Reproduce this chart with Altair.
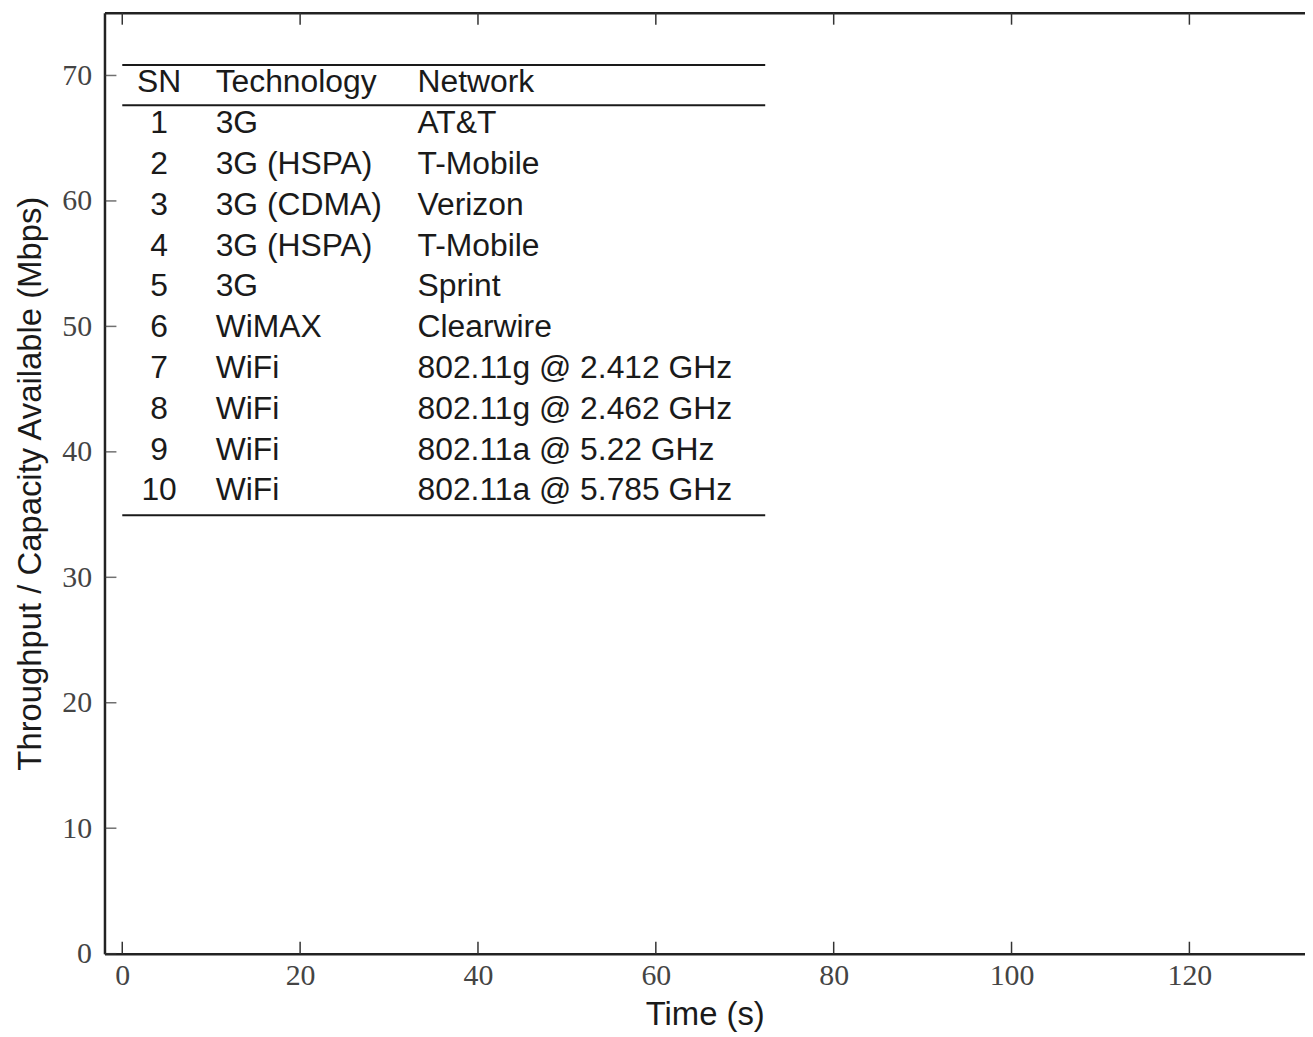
import altair as alt
import pandas as pd

# ---- data ----
x_ticks = [0, 20, 40, 60, 80, 100, 120]
y_ticks = [0, 10, 20, 30, 40, 50, 60, 70]
header = ["SN", "Technology", "Network"]
sn = ["1", "2", "3", "4", "5", "6", "7", "8", "9", "10"]
tech = ["3G", "3G (HSPA)", "3G (CDMA)", "3G (HSPA)", "3G", "WiMAX",
        "WiFi", "WiFi", "WiFi", "WiFi"]
network = ["AT&T", "T-Mobile", "Verizon", "T-Mobile", "Sprint", "Clearwire",
           "802.11g @ 2.412 GHz", "802.11g @ 2.462 GHz",
           "802.11a @ 5.22 GHz", "802.11a @ 5.785 GHz"]

# ---- layout ----
PW, PH = 1207, 946
X_DOM = [-2, 133]
Y_DOM = [0, 75]
HEADER_Y = 69.44
ROW_STEP = 3.252
SN_X, TECH_X, NET_X = 4.14, 10.5, 33.2
TBL_X0, TBL_X1 = 0, 72.3
LINE_YS = [70.83, 67.62, 34.94]
TICK_LEN = 12

xs = alt.Scale(domain=X_DOM, nice=False, zero=False)
ys = alt.Scale(domain=Y_DOM, nice=False, zero=False)

table = pd.DataFrame({
    "sn": [header[0]] + sn,
    "tech": [header[1]] + tech,
    "net": [header[2]] + network,
    "row": list(range(0, len(sn) + 1)),
})
table["ypos"] = HEADER_Y - ROW_STEP * table["row"]

TXT = dict(font="Liberation Sans", fontSize=32, color="#1a1a1a", baseline="middle")

def col_layer(field, xval, align):
    return alt.Chart(table).mark_text(align=align, **TXT).encode(
        x=alt.X(datum=xval, scale=xs, axis=None),
        y=alt.Y("ypos:Q", scale=ys, axis=None),
        text=f"{field}:N")

sn_layer = col_layer("sn", SN_X, "center")
tech_layer = col_layer("tech", TECH_X, "left")
net_layer = col_layer("net", NET_X, "left")

lines = alt.Chart(pd.DataFrame({"y": LINE_YS})).mark_rule(color="#1a1a1a", strokeWidth=2).encode(
    x=alt.X(datum=TBL_X0, scale=xs, axis=None), x2=alt.X2(datum=TBL_X1),
    y=alt.Y("y:Q", scale=ys, axis=None))

LBL = dict(labelFont="Liberation Serif", labelFontSize=30, labelColor="#444",
           titleFont="Liberation Sans", titleFontSize=33, titleColor="#1a1a1a",
           titleFontWeight="normal", domainColor="#222", domainWidth=2.5,
           ticks=False, grid=False)

xdf = pd.DataFrame({"v": x_ticks})
ydf = pd.DataFrame({"v": y_ticks})

bottom_ticks = alt.Chart(xdf).mark_rule(color="#333", strokeWidth=1.5).encode(
    x=alt.X("v:Q", scale=xs, axis=alt.Axis(orient="bottom", values=x_ticks, title="Time (s)",
                                           labelPadding=7, titlePadding=8, **LBL)),
    y=alt.value(PH), y2=alt.value(PH - TICK_LEN))

top_ticks = alt.Chart(xdf).mark_rule(color="#333", strokeWidth=1.5).encode(
    x=alt.X("v:Q", scale=xs, axis=alt.Axis(orient="top", labels=False, title=None,
                                           domainColor="#222", domainWidth=2.5,
                                           ticks=False, grid=False)),
    y=alt.value(0), y2=alt.value(TICK_LEN))

left_ticks = alt.Chart(ydf).mark_tick(color="#333", thickness=1.5, size=TICK_LEN,
                                      orient="horizontal", xOffset=TICK_LEN / 2).encode(
    y=alt.Y("v:Q", scale=ys, axis=alt.Axis(orient="left", values=y_ticks,
                                           title="Throughput / Capacity Available (Mbps)",
                                           labelPadding=13, titlePadding=14, **LBL)),
    x=alt.X(datum=X_DOM[0], scale=xs, axis=None))

chart = alt.layer(
    bottom_ticks, top_ticks, left_ticks, lines, sn_layer, tech_layer, net_layer
).resolve_axis(x="independent", y="independent").properties(
    width=PW, height=PH,
    autosize=alt.AutoSizeParams(type="none"),
    padding={"left": 97, "top": 2, "right": 0, "bottom": 80},
).configure_view(stroke=None)

chart.save("out.html", embed_options={"renderer": "svg", "actions": False})
